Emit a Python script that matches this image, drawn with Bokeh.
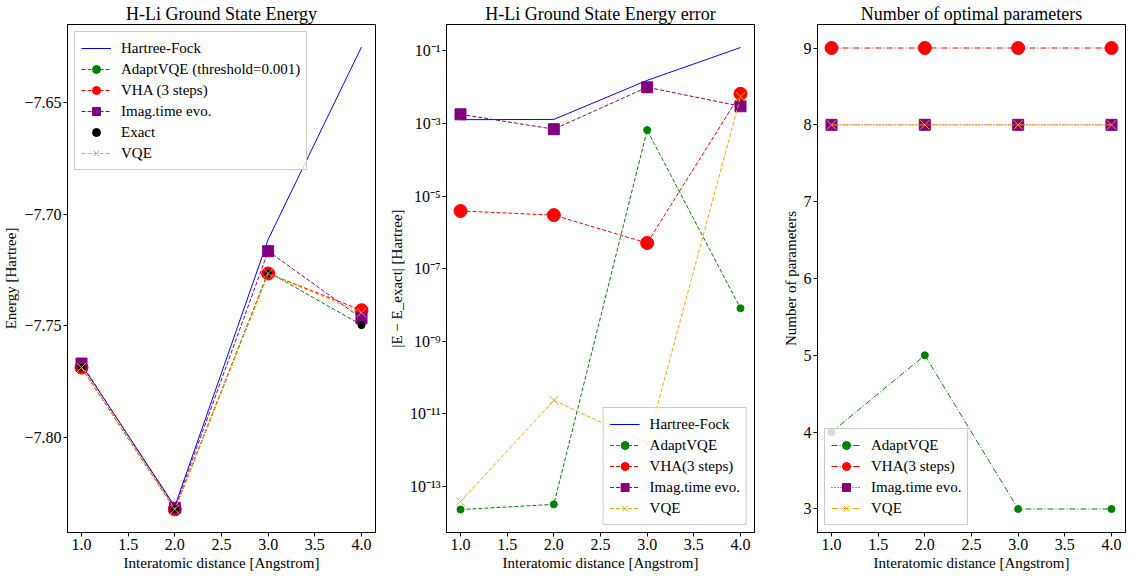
from bokeh.plotting import figure
from bokeh.layouts import row
from bokeh.models import Range1d, FixedTicker, CustomJSTickFormatter
from bokeh.embed import file_html
from bokeh.resources import INLINE

# ---------------- data ----------------
distances = [1.0, 2.0, 3.0, 4.0]

energy_hf = [-7.7674, -7.8310, -7.7112, -7.6249]
energy_adapt = [-7.7687, -7.8323, -7.7258, -7.7496]
energy_vha = [-7.7687, -7.8323, -7.7265, -7.7430]
energy_imag = [-7.7669, -7.8316, -7.7165, -7.7466]
energy_exact = [-7.7687, -7.8323, -7.7265, -7.7496]
energy_vqe = [-7.7687, -7.8323, -7.7265, -7.7441]

error_hf = [1.28e-3, 1.30e-3, 1.55e-2, 1.247e-1]
error_adapt = [2.3e-14, 3.2e-14, 6.6e-4, 8.1e-9]
error_vha = [3.9e-6, 3.0e-6, 5.1e-7, 6.6e-3]
error_imag = [1.8e-3, 7.0e-4, 1.0e-2, 3.0e-3]
error_vqe = [3.8e-14, 2.35e-11, 1.5e-12, 5.5e-3]

params_adapt = [4, 5, 3, 3]
params_vha = [9, 9, 9, 9]
params_imag = [8, 8, 8, 8]
params_vqe = [8, 8, 8, 8]

x_ticks = [1.0, 1.5, 2.0, 2.5, 3.0, 3.5, 4.0]
energy_ticks = [-7.80, -7.75, -7.70, -7.65]
error_ticks = [1e-13, 1e-11, 1e-9, 1e-7, 1e-5, 1e-3, 1e-1]
param_ticks = [3, 4, 5, 6, 7, 8, 9]

# ---------------- style ----------------
FONT = "Liberation Serif"
BLUE, GREEN, RED, PURPLE, ORANGE = "#0000ff", "#008000", "#ff0000", "#800080", "#ffa500"
FW, FH = 308, 508


def make_fig(title, ylabel, y_range, left, right, **kw):
    p = figure(frame_width=FW, frame_height=FH, x_range=Range1d(0.85, 4.15), y_range=y_range,
               output_backend="svg", toolbar_location=None, title=title,
               min_border_left=left, min_border_right=right, min_border_top=4,
               min_border_bottom=2, **kw)
    p.title.text_font = FONT
    p.title.text_font_size = "18px"
    p.title.text_font_style = "normal"
    p.title.align = "center"
    p.title.text_color = "black"
    p.title.standoff = 2
    p.grid.visible = False
    p.outline_line_color = "black"
    p.outline_line_width = 1
    p.outline_line_alpha = 1
    p.background_fill_color = "white"
    p.border_fill_color = "white"
    for ax in (p.xaxis[0], p.yaxis[0]):
        ax.major_label_text_font = FONT
        ax.major_label_text_font_size = "16px"
        ax.major_label_text_color = "black"
        ax.axis_label_text_font = FONT
        ax.axis_label_text_font_size = "15px"
        ax.axis_label_text_font_style = "normal"
        ax.axis_label_text_color = "black"
        ax.axis_line_color = "black"
        ax.major_tick_line_color = "black"
        ax.major_tick_in = 0
        ax.major_tick_out = 4
        ax.minor_tick_line_color = None
        ax.major_label_standoff = 2
        ax.axis_label_standoff = 2
    p.xaxis.axis_label = "Interatomic distance [Angstrom]"
    p.xaxis.ticker = FixedTicker(ticks=x_ticks)
    p.xaxis.formatter = CustomJSTickFormatter(code="return tick.toFixed(1);")
    p.yaxis.axis_label = ylabel
    return p


def style_legend(p, location):
    lg = p.legend[0]
    lg.location = location
    lg.label_text_font = FONT
    lg.label_text_font_size = "15px"
    lg.label_text_color = "black"
    lg.border_line_color = "#cccccc"
    lg.border_line_alpha = 1
    lg.background_fill_alpha = 0.8
    lg.glyph_width = 30
    lg.glyph_height = 20
    lg.label_height = 20
    lg.spacing = 1
    lg.padding = 6
    lg.margin = 7
    lg.label_standoff = 10


# ---------------- panel 1 ----------------
p1 = make_fig("H-Li Ground State Energy", "Energy [Hartree]", Range1d(-7.8427, -7.6148), 61, 10)
p1.yaxis.ticker = FixedTicker(ticks=energy_ticks)
p1.yaxis.formatter = CustomJSTickFormatter(
    code="return (tick < 0 ? '\u2212' : '') + Math.abs(tick).toFixed(2);")

p1.line(distances, energy_hf, color=BLUE, line_width=1, legend_label="Hartree-Fock")
lab = "AdaptVQE (threshold=0.001)"
p1.line(distances, energy_adapt, color=GREEN, line_width=1, line_dash="4 2", legend_label=lab)
p1.scatter(distances, energy_adapt, marker="circle", size=7, color=GREEN, legend_label=lab)
lab = "VHA (3 steps)"
p1.line(distances, energy_vha, color=RED, line_width=1, line_dash="4 2", legend_label=lab)
p1.scatter(distances, energy_vha, marker="circle", size=13, color=RED, legend_label=lab)
lab = "Imag.time evo."
p1.line(distances, energy_imag, color=PURPLE, line_width=1, line_dash="4 2", legend_label=lab)
p1.scatter(distances, energy_imag, marker="square", size=11, color=PURPLE, legend_label=lab)
p1.scatter(distances, energy_exact, marker="circle", size=7, color="black", legend_label="Exact")
lab = "VQE"
p1.line(distances, energy_vqe, color=ORANGE, line_width=1, line_dash="4 2", legend_label=lab)
p1.scatter(distances, energy_vqe, marker="x", size=13, line_color=ORANGE, line_width=1,
           legend_label=lab)
style_legend(p1, "top_left")

# ---------------- panel 2 ----------------
p2 = make_fig("H-Li Ground State Energy error", "|E \u2212 E_exact| [Hartree]",
              Range1d(10 ** -14.27, 10 ** -0.27), 53, 10, y_axis_type="log")
p2.yaxis.ticker = FixedTicker(ticks=error_ticks)
p2.yaxis.formatter = CustomJSTickFormatter(code="""
const sup = {'-':'\u207b','0':'\u2070','1':'\u00b9','2':'\u00b2','3':'\u00b3','4':'\u2074',
             '5':'\u2075','6':'\u2076','7':'\u2077','8':'\u2078','9':'\u2079'};
const e = Math.round(Math.log10(tick)).toString();
let s = '10';
for (const c of e) { s += sup[c]; }
return s;
""")
p2.line(distances, error_hf, color=BLUE, line_width=1, legend_label="Hartree-Fock")
lab = "AdaptVQE"
p2.line(distances, error_adapt, color=GREEN, line_width=1, line_dash="4 2", legend_label=lab)
p2.scatter(distances, error_adapt, marker="circle", size=7, color=GREEN, legend_label=lab)
lab = "VHA(3 steps)"
p2.line(distances, error_vha, color=RED, line_width=1, line_dash="4 2", legend_label=lab)
p2.scatter(distances, error_vha, marker="circle", size=13, color=RED, legend_label=lab)
lab = "Imag.time evo."
p2.line(distances, error_imag, color=PURPLE, line_width=1, line_dash="4 2", legend_label=lab)
p2.scatter(distances, error_imag, marker="square", size=11, color=PURPLE, legend_label=lab)
lab = "VQE"
p2.line(distances, error_vqe, color=ORANGE, line_width=1, line_dash="4 2", legend_label=lab)
p2.scatter(distances, error_vqe, marker="x", size=13, line_color=ORANGE, line_width=1,
           legend_label=lab)
style_legend(p2, "bottom_right")

# ---------------- panel 3 ----------------
p3 = make_fig("Number of optimal parameters", "Number of parameters", Range1d(2.694, 9.306), 53, 4)
p3.yaxis.ticker = FixedTicker(ticks=param_ticks)
p3.yaxis.formatter = CustomJSTickFormatter(code="return tick.toFixed(0);")
lab = "AdaptVQE"
p3.line(distances, params_adapt, color=GREEN, line_width=1, line_dash="6 2 1 2", legend_label=lab)
p3.scatter(distances, params_adapt, marker="circle", size=7, color=GREEN, legend_label=lab)
lab = "VHA(3 steps)"
p3.line(distances, params_vha, color=RED, line_width=1, line_dash="6 2 1 2", legend_label=lab)
p3.scatter(distances, params_vha, marker="circle", size=13, color=RED, legend_label=lab)
lab = "Imag.time evo."
p3.line(distances, params_imag, color=PURPLE, line_width=1, line_dash="1 2", legend_label=lab)
p3.scatter(distances, params_imag, marker="square", size=11, color=PURPLE, legend_label=lab)
lab = "VQE"
p3.line(distances, params_vqe, color=ORANGE, line_width=1, line_dash="6 2 1 2", legend_label=lab)
p3.scatter(distances, params_vqe, marker="x", size=13, line_color=ORANGE, line_width=1,
           legend_label=lab)
style_legend(p3, "bottom_left")

layout = row(p1, p2, p3)
open("out.html", "w").write(file_html(layout, INLINE))
